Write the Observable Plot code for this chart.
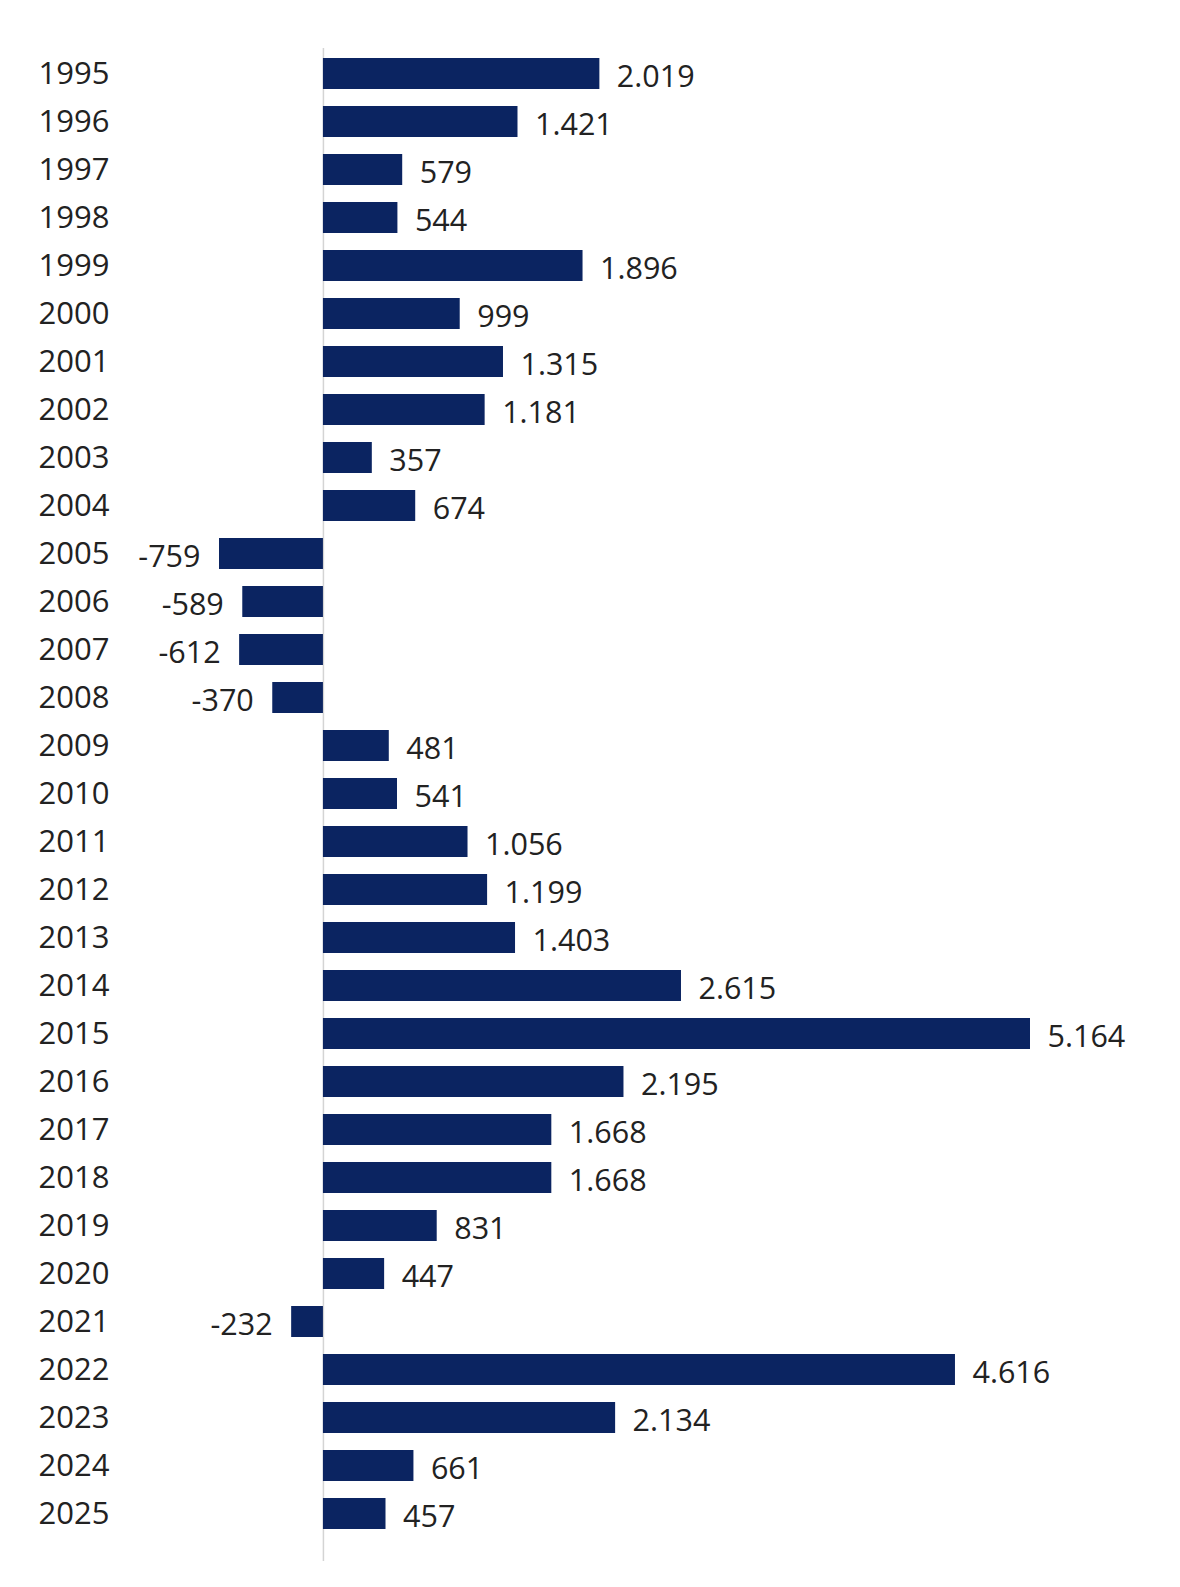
<!DOCTYPE html>
<html>
<head>
<meta charset="utf-8">
<script src="https://cdn.jsdelivr.net/npm/d3@7"></script>
<script src="https://cdn.jsdelivr.net/npm/@observablehq/plot@0.6"></script>
<style>
  html, body { margin: 0; padding: 0; background: #fff; overflow: hidden; }
  #chart { width: 1180px; height: 1587px; overflow: hidden; }
  #chart svg { display: block; }
</style>
</head>
<body>
<div id="chart"></div>
<script>
const years = ["1995","1996","1997","1998","1999","2000","2001","2002","2003","2004","2005","2006","2007","2008","2009","2010","2011","2012","2013","2014","2015","2016","2017","2018","2019","2020","2021","2022","2023","2024","2025"];
const values = [2019,1421,579,544,1896,999,1315,1181,357,674,-759,-589,-612,-370,481,541,1056,1199,1403,2615,5164,2195,1668,1668,831,447,-232,4616,2134,661,457];

const data = years.map((y, i) => ({year: y, value: values[i]}));
const de = d3.formatLocale({decimal: ",", thousands: ".", grouping: [3], currency: ["", " €"], minus: "-"});
const fmt = de.format(",d");

const barColor = "#0b2461";
const textColor = "#222";
const fontFamily = "'Open Sans', 'Noto Sans', sans-serif";

const chart = Plot.plot({
  width: 1180,
  height: 1587,
  marginLeft: 219,
  marginRight: 150,
  marginTop: 38,
  marginBottom: 38,
  style: {fontFamily, fontSize: "30px", color: textColor, background: "#fff"},
  x: {domain: [-759, 5164], axis: null},
  y: {domain: years, padding: 0.36, label: null},
  marks: [
    Plot.axisY({tickSize: 0, textAnchor: "start", dx: -172, fontSize: 31, fill: textColor, label: null}),
    Plot.ruleX([0], {stroke: "#d4d4d4", strokeWidth: 1.5, insetTop: 10, insetBottom: -12}),
    Plot.barX(data, {y: "year", x1: 0, x2: "value", fill: barColor, insetLeft: 0}),
    Plot.text(data.filter(d => d.value >= 0), {
      y: "year", x: "value", text: d => fmt(d.value),
      textAnchor: "start", dx: 17, dy: 3, fill: textColor, fontSize: 30.5
    }),
    Plot.text(data.filter(d => d.value < 0), {
      y: "year", x: "value", text: d => fmt(d.value),
      textAnchor: "end", dx: -19, dy: 3, fill: textColor, fontSize: 30.5
    })
  ]
});
document.getElementById("chart").appendChild(chart);
</script>
</body>
</html>
